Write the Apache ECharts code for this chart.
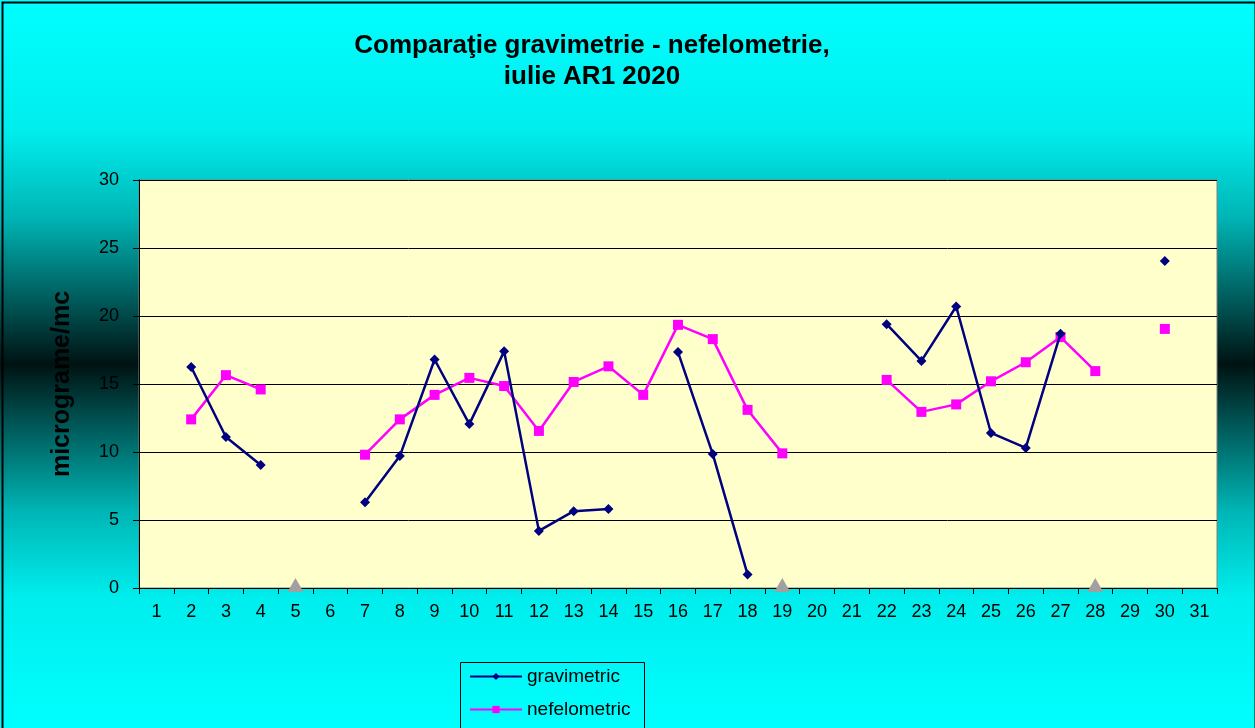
<!DOCTYPE html>
<html>
<head>
<meta charset="utf-8">
<script src="https://cdn.jsdelivr.net/npm/echarts@6/dist/echarts.min.js"></script>
<style>
html,body{margin:0;padding:0;}
#chart{width:1255px;height:728px;}
</style>
</head>
<body>
<div id="chart"></div>
<script>
// zilele lunii
const days = ['1','2','3','4','5','6','7','8','9','10','11','12','13','14','15','16','17','18','19','20','21','22','23','24','25','26','27','28','29','30','31']
const gravimetric = [null,16.25,11.1,9.05,null,null,6.3,9.7,16.8,12.05,17.4,4.2,5.65,5.8,null,17.35,9.85,1.0,null,null,null,19.4,16.7,20.7,11.4,10.3,18.7,null,null,24.05,null]
const nefelometric = [null,12.4,15.65,14.6,null,null,9.8,12.4,14.2,15.45,14.85,11.55,15.15,16.3,14.2,19.35,18.3,13.1,9.9,null,null,15.3,12.95,13.5,15.2,16.6,18.45,15.95,null,19.05,null]
const nedeterminat = [null,null,null,null,0,null,null,null,null,null,null,null,null,null,null,null,null,null,0,null,null,null,null,null,null,null,null,0,null,null,null]
const yTicks = [0,5,10,15,20,25,30]

var myChart = echarts.init(document.getElementById('chart'))
var font = 'Liberation Sans, Arial, sans-serif'
var legendText = {fontFamily:font, fontSize:19, color:'#000'}

myChart.setOption({
    animation:false,
    backgroundColor:{
        type:'linear', x:0, y:0, x2:0, y2:1,
        colorStops:[
            {offset:0, color:'#00ffff'},
            {offset:0.18, color:'#00eded'},
            {offset:0.3, color:'#00b4b4'},
            {offset:0.42, color:'#005454'},
            {offset:0.5, color:'#001212'},
            {offset:0.58, color:'#005454'},
            {offset:0.7, color:'#00b4b4'},
            {offset:0.82, color:'#00eded'},
            {offset:1, color:'#00ffff'}
        ]
    },
    title:{
        text:'Comparaţie gravimetrie - nefelometrie,\niulie AR1 2020',
        left:587, top:25, textAlign:'center',
        textStyle:{fontFamily:font, fontSize:26, fontWeight:'bold', color:'#000', lineHeight:31}
    },
    graphic:[
        {
            type:'rect', left:0, top:0, z:100,
            shape:{width:1253, height:727},
            style:{fill:'none', stroke:'#000', lineWidth:2}
        },
        {
            type:'rect', left:458, top:660, z:1,
            shape:{width:184, height:90},
            style:{fill:'none', stroke:'#000', lineWidth:1}
        }
    ],
    legend:[
        {
            data:['gravimetric'], left:469, top:667, padding:0,
            itemWidth:52, itemHeight:9, itemGap:6, textStyle:legendText
        },
        {
            data:['nefelometric'], left:469, top:700, padding:0,
            itemWidth:52, itemHeight:9, itemGap:6, textStyle:legendText
        }
    ],
    grid:{left:139, right:38, top:180, bottom:140, show:true, backgroundColor:'#ffffcc', borderColor:'#808080', borderWidth:1},
    xAxis:{
        type:'category', data:days, boundaryGap:true,
        axisLine:{lineStyle:{color:'#000'}},
        axisTick:{show:true, inside:false, length:6, lineStyle:{color:'#000'}},
        axisLabel:{fontFamily:font, fontSize:18, color:'#000', margin:15, interval:0}
    },
    yAxis:{
        type:'value', min:yTicks[0], max:yTicks[yTicks.length-1], interval:5,
        name:'micrograme/mc', nameLocation:'middle', nameGap:64,
        nameTextStyle:{fontFamily:font, fontSize:25, fontWeight:'bold', color:'#000'},
        axisLine:{show:true, lineStyle:{color:'#000'}},
        axisTick:{show:true, length:6, lineStyle:{color:'#000'}},
        axisLabel:{fontFamily:font, fontSize:18, color:'#000', margin:20},
        splitLine:{lineStyle:{color:'#000', width:1}}
    },
    series:[
        {
            name:'gravimetric', type:'line', data:gravimetric, connectNulls:false,
            symbol:'diamond', symbolSize:10, showAllSymbol:true,
            lineStyle:{color:'#000080', width:2.5}, itemStyle:{color:'#000080'}, z:3
        },
        {
            name:'nefelometric', type:'line', data:nefelometric, connectNulls:false,
            symbol:'rect', symbolSize:10, showAllSymbol:true,
            lineStyle:{color:'#ff00ff', width:2.5}, itemStyle:{color:'#ff00ff'}, z:2
        },
        {
            name:'nedeterminat', type:'line', data:nedeterminat,
            symbol:'triangle', symbolSize:[16,14], symbolOffset:[0,-3],
            lineStyle:{width:0}, itemStyle:{color:'#a0a0a0'}, clip:false, z:4
        }
    ]
})
</script>
</body>
</html>
